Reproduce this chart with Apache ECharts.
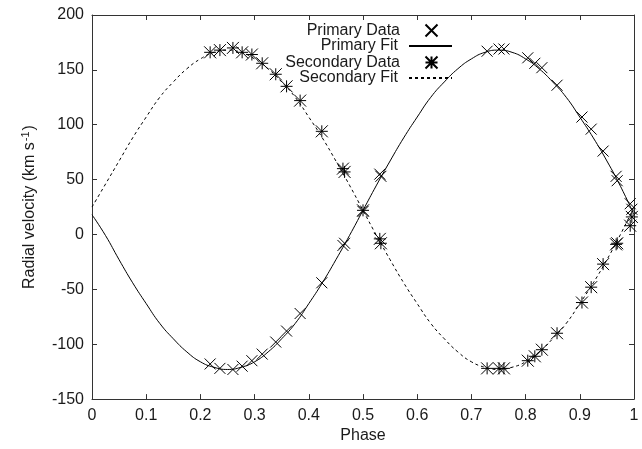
<!DOCTYPE html>
<html>
<head>
<meta charset="utf-8">
<script src="https://cdn.jsdelivr.net/npm/echarts@6/dist/echarts.min.js"></script>
<style>
html,body{margin:0;padding:0;background:#fff;}
#chart{width:642px;height:449px;}
</style>
</head>
<body>
<div id="chart"></div>
<script>
// Observations (orbital phase) and measured radial velocities
const phase = [0.218, 0.236, 0.260, 0.277, 0.295, 0.314, 0.339, 0.359, 0.384, 0.424, 0.463, 0.466, 0.500, 0.531, 0.533, 0.729, 0.751, 0.760, 0.804, 0.817, 0.830, 0.858, 0.904, 0.921, 0.943, 0.967, 0.969, 0.993, 0.996];
const primaryRV = [-118, -122, -123, -120, -115, -109, -98, -88, -72, -44, -10, -8, 21, 55, 53, 167, 169, 169, 161, 156, 152, 136, 107, 96, 76, 53, 49, 28, 23];
const secondaryRV = [166, 168, 170, 166, 164, 156, 146, 135, 122, 94, 60, 57, 22, -4, -8, -122, -122, -122, -115, -111, -105, -90, -62, -48, -27, -9, -8, 8, 16];

// Fitted curves, sampled every 0.025 in phase
const fitPhase = [0, 0.025, 0.05, 0.075, 0.1, 0.125, 0.15, 0.175, 0.2, 0.225, 0.25, 0.275, 0.3, 0.325, 0.35, 0.375, 0.4, 0.425, 0.45, 0.475, 0.5, 0.525, 0.55, 0.575, 0.6, 0.625, 0.65, 0.675, 0.7, 0.725, 0.75, 0.775, 0.8, 0.825, 0.85, 0.875, 0.9, 0.925, 0.95, 0.975, 1];
const primaryFit = [18, -1, -23, -44, -63, -81, -95, -107, -116, -121, -123, -121, -116, -107, -95, -81, -63, -44, -23, -1, 22, 45, 67, 88, 107, 125, 139, 151, 160, 166, 168, 166, 160, 151, 139, 125, 107, 88, 67, 44, 18];
const secondaryFit = [25, 46, 67, 88, 107, 125, 139, 151, 160, 166, 168, 166, 160, 151, 139, 125, 107, 88, 67, 45, 22, -1, -23, -44, -63, -81, -95, -107, -116, -121, -123, -121, -116, -107, -95, -81, -63, -44, -23, 0, 25];

const seriesNames = ['Primary Data', 'Primary Fit', 'Secondary Data', 'Secondary Fit'];

const pairs = (xs, ys) => xs.map((x, i) => [x, ys[i]]);
const crossPath = 'path://M0 0L10 10M10 0L0 10';
const starPath = 'path://M0 5L10 5M5 0L5 10M0 0L10 10M10 0L0 10';
const FONT = 'Liberation Sans, Arial, Helvetica, sans-serif';
const INK = '#1a1a1a';

const chart = echarts.init(document.getElementById('chart'), null, {renderer: 'canvas'});

const axisCommon = {
  axisLine: {show: true, onZero: false, lineStyle: {color: '#333', width: 1}},
  axisTick: {show: true, inside: true, length: 5, lineStyle: {color: '#333', width: 1}},
  splitLine: {show: false}
};

const legendRows = [22, 38, 54, 70];
const legends = seriesNames.map((n, i) => {
  const isLine = n.indexOf('Fit') >= 0;
  return {
    data: [n],
    orient: 'vertical',
    align: 'right',
    right: isLine ? 189 : 202,
    top: legendRows[i],
    itemWidth: 43,
    itemHeight: 12,
    selectedMode: false,
    padding: 0,
    itemStyle: isLine ? {opacity: 0} : {},
    textStyle: {fontFamily: FONT, fontSize: 16, color: INK, padding: [0, isLine ? 6 : 5, 0, 0]}
  };
});

const option = {
  animation: false,
  backgroundColor: '#fff',
  grid: {left: 92, right: 8, top: 15, bottom: 49, containLabel: false},
  legend: legends,
  xAxis: [
    Object.assign({
      type: 'value', min: 0, max: 1, interval: 0.1, position: 'bottom',
      name: 'Phase', nameLocation: 'middle', nameGap: 28,
      nameTextStyle: {fontFamily: FONT, fontSize: 16, color: INK},
      axisLabel: {fontFamily: FONT, fontSize: 16, color: INK, margin: 8}
    }, axisCommon),
    Object.assign({
      type: 'value', min: 0, max: 1, interval: 0.1, position: 'top',
      axisLabel: {show: false}
    }, axisCommon)
  ],
  yAxis: [
    Object.assign({
      type: 'value', min: -150, max: 200, interval: 50, position: 'left',
      name: '{n|Radial velocity (km s}{s|-1}{n|)}', nameLocation: 'middle', nameGap: 52, nameRotate: 90,
      nameTextStyle: {
        fontFamily: FONT, fontSize: 16, color: INK,
        rich: {
          n: {fontFamily: FONT, fontSize: 16, color: INK, lineHeight: 20},
          s: {fontFamily: FONT, fontSize: 11, color: INK, lineHeight: 20, verticalAlign: 'top', padding: [0, 1, 6, 1]}
        }
      },
      axisLabel: {fontFamily: FONT, fontSize: 16, color: INK, margin: 8}
    }, axisCommon),
    Object.assign({
      type: 'value', min: -150, max: 200, interval: 50, position: 'right',
      axisLabel: {show: false}
    }, axisCommon)
  ],
  series: [
    {
      name: 'Primary Data', type: 'scatter', data: pairs(phase, primaryRV),
      symbol: crossPath, symbolSize: 11, z: 5,
      itemStyle: {color: 'none', borderColor: '#000', borderWidth: 1, opacity: 1}
    },
    {
      name: 'Primary Fit', type: 'line', data: pairs(fitPhase, primaryFit),
      smooth: 0.5, symbol: 'none', showSymbol: false, z: 3,
      lineStyle: {color: '#000', width: 1, type: 'solid'},
      itemStyle: {color: '#000'}
    },
    {
      name: 'Secondary Data', type: 'scatter', data: pairs(phase, secondaryRV),
      symbol: starPath, symbolSize: 12, z: 5,
      itemStyle: {color: 'none', borderColor: '#000', borderWidth: 1, opacity: 1}
    },
    {
      name: 'Secondary Fit', type: 'line', data: pairs(fitPhase, secondaryFit),
      smooth: 0.5, symbol: 'none', showSymbol: false, z: 3,
      lineStyle: {color: '#000', width: 1, type: [3, 3]},
      itemStyle: {color: '#000'}
    }
  ]
};
chart.setOption(option);
</script>
</body>
</html>
